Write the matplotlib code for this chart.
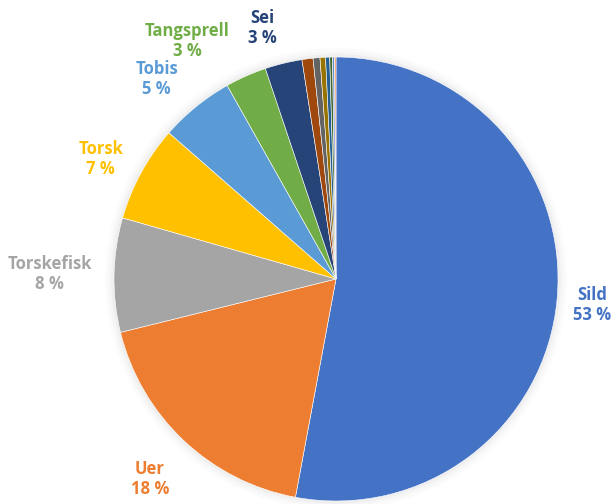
import matplotlib
matplotlib.use("Agg")
import matplotlib.pyplot as plt
import numpy as np

# andel av fangst (%), lest av figuren
arter = ["Sild", "Uer", "Torskefisk", "Torsk", "Tobis", "Tangsprell", "Sei",
         "Makrell", "Hyse", "Lyr", "Kolmule", "Hestmakrell", "Øyepål", "Annet"]
andel = [52.9, 18.2, 8.3, 7.0, 5.4, 3.0, 2.7,
         0.8, 0.5, 0.4, 0.3, 0.2, 0.15, 0.1]
vis_etikett = [True] * 7 + [False] * 7
farger = ["#4472C4", "#ED7D31", "#A5A5A5", "#FFC000", "#5B9BD5", "#70AD47", "#264478",
          "#9E480E", "#636363", "#997300", "#255E91", "#43682B", "#698ED0", "#F1975A"]

# etikettplassering: avstand fra sentrum og vinkelforskyvning (grader)
etikett_r = [1.16, 1.23, 1.29, 1.19, 1.21, 1.265, 1.18]
etikett_dv = [-0.6, 0.3, 0.0, 1.6, 2.8, 8.0, 2.7]

plt.rcParams['font.family'] = ['Open Sans', 'DejaVu Sans']

fig = plt.figure(figsize=(6.12, 5.04), dpi=100)
ax = fig.add_axes([0, 0, 1, 1])

# svak skygge rundt kaka
for r, a in [(1.04, 0.03), (1.025, 0.04), (1.012, 0.06)]:
    ax.add_patch(plt.Circle((0, 0), r, color='gray', alpha=a, lw=0, zorder=0))

wedges, _ = ax.pie(andel, colors=farger, startangle=90, counterclock=False,
                   radius=1.0, wedgeprops=dict(edgecolor='white', linewidth=0.4))

tot = sum(andel)
i = 0
for w, navn, v, f, vis in zip(wedges, arter, andel, farger, vis_etikett):
    if not vis:
        continue
    mid = np.deg2rad((w.theta1 + w.theta2) / 2 + etikett_dv[i])
    r = etikett_r[i]
    i += 1
    ax.text(r * np.cos(mid), r * np.sin(mid), f"{navn}\n{round(v / tot * 100)} %",
            ha='center', va='center', color=f, fontsize=12,
            fontweight='bold', linespacing=1.15)

ax.set_aspect('auto')
ax.set_xlim(-1.5135, 1.2432)
ax.set_ylim(-1.0135, 1.2568)
ax.axis('off')

fig.savefig("out.png", dpi=100)
